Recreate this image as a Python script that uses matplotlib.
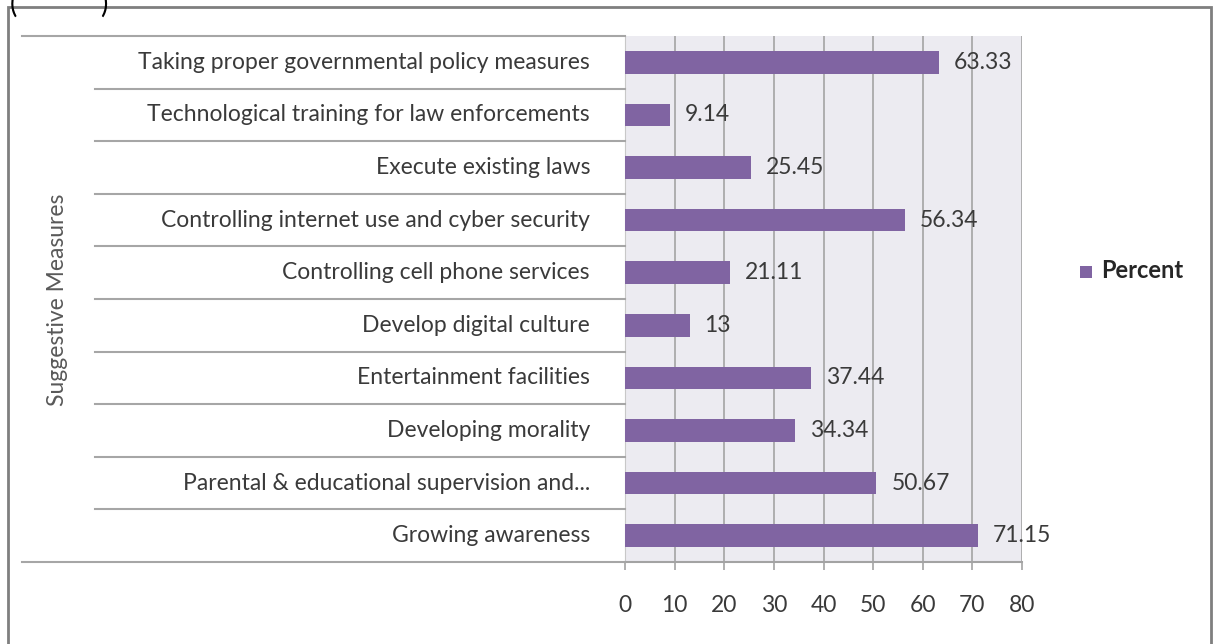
import numpy as np
import matplotlib.pyplot as plt
from matplotlib.lines import Line2D
from matplotlib.patches import Rectangle

plt.rcParams['font.family'] = ['Lato', 'DejaVu Sans']

# podaci (odozgo nadole)
mere = [
    'Taking proper governmental policy measures',
    'Technological training for law enforcements',
    'Execute existing laws',
    'Controlling internet use and cyber security',
    'Controlling cell phone services',
    'Develop digital culture',
    'Entertainment facilities',
    'Developing morality',
    'Parental & educational supervision and...',
    'Growing awareness',
]
procenti = [63.33, 9.14, 25.45, 56.34, 21.11, 13, 37.44, 34.34, 50.67, 71.15]
oznake = ['63.33', '9.14', '25.45', '56.34', '21.11', '13', '37.44', '34.34', '50.67', '71.15']
x_ticks = [0, 10, 20, 30, 40, 50, 60, 70, 80]

W, H = 1215, 644
ljubicasta = '#8064a2'
siva_tekst = '#3a3a3a'
fs = 16.5

fig = plt.figure(figsize=(W / 100, H / 100), dpi=100)
fig.patch.set_facecolor('white')

# granice grafika u pikselima
x0, x1 = 625, 1022
y_top, y_bot = 36, 562
ax = fig.add_axes([x0 / W, 1 - y_bot / H, (x1 - x0) / W, (y_bot - y_top) / H])
ax.set_facecolor('#ecebf1')

n = len(mere)
pos = np.arange(n)[::-1]
ax.barh(pos, procenti, height=0.43, color=ljubicasta, zorder=3)
ax.set_xlim(0, 80)
ax.set_ylim(-0.5, n - 0.5)

for p, v, lbl in zip(pos, procenti, oznake):
    ax.text(v + 3.0, p, lbl, va='center', ha='left', fontsize=fs,
            color=siva_tekst, zorder=4)

# vertikalna mreza
ax.set_xticks(x_ticks)
ax.set_xticklabels([str(t) for t in x_ticks], fontsize=fs, color=siva_tekst)
ax.grid(axis='x', color='#a3a3a3', lw=1.2, zorder=1)
ax.tick_params(axis='x', direction='out', length=6, width=1.2, color='#a3a3a3', pad=18)
ax.set_yticks([])
for s in ['top', 'right']:
    ax.spines[s].set_visible(False)
ax.spines['bottom'].set_color('#a3a3a3')
ax.spines['bottom'].set_linewidth(1.5)
ax.spines['left'].set_color('#c8c8c8')

# nazivi kategorija levo od grafika
row_h = (y_bot - y_top) / n
for i, m in enumerate(mere):
    yc = y_top + row_h * (i + 0.5)
    fig.text(590 / W, 1 - yc / H, m, ha='right', va='center', fontsize=fs,
             color=siva_tekst)

# horizontalne linije kao tabela
for i in range(n + 1):
    yy = 1 - (y_top + row_h * i) / H
    xs = 22 if i in (0, n) else 95
    fig.add_artist(Line2D([xs / W, x0 / W], [yy, yy], color='#a6a6a6', lw=1.5))

fig.text(57 / W, 1 - 300 / H, 'Suggestive Measures', rotation=90, ha='center',
         va='center', fontsize=fs, color='#595959')

# legenda
fig.add_artist(Rectangle((1080 / W, 1 - 278 / H), 12 / W, 12 / H,
                         facecolor=ljubicasta, edgecolor='none'))
fig.text(1101 / W, 1 - 271 / H, 'Percent', ha='left', va='center',
         fontsize=17, fontweight='bold', color='#262626')

# okvir oko cele slike
fig.add_artist(Rectangle((8 / W, -0.01), 1203 / W, 1 - 7 / H + 0.01,
                         fill=False, edgecolor='#7f7f7f', lw=2))

# zagrade iznad okvira (odsecene)
fig.text(10 / W, 1 - 4 / H, '(', ha='left', va='center', fontsize=20, color='black')
fig.text(100 / W, 1 - 4 / H, ')', ha='left', va='center', fontsize=20, color='black')

plt.savefig('out.png', dpi=100)
